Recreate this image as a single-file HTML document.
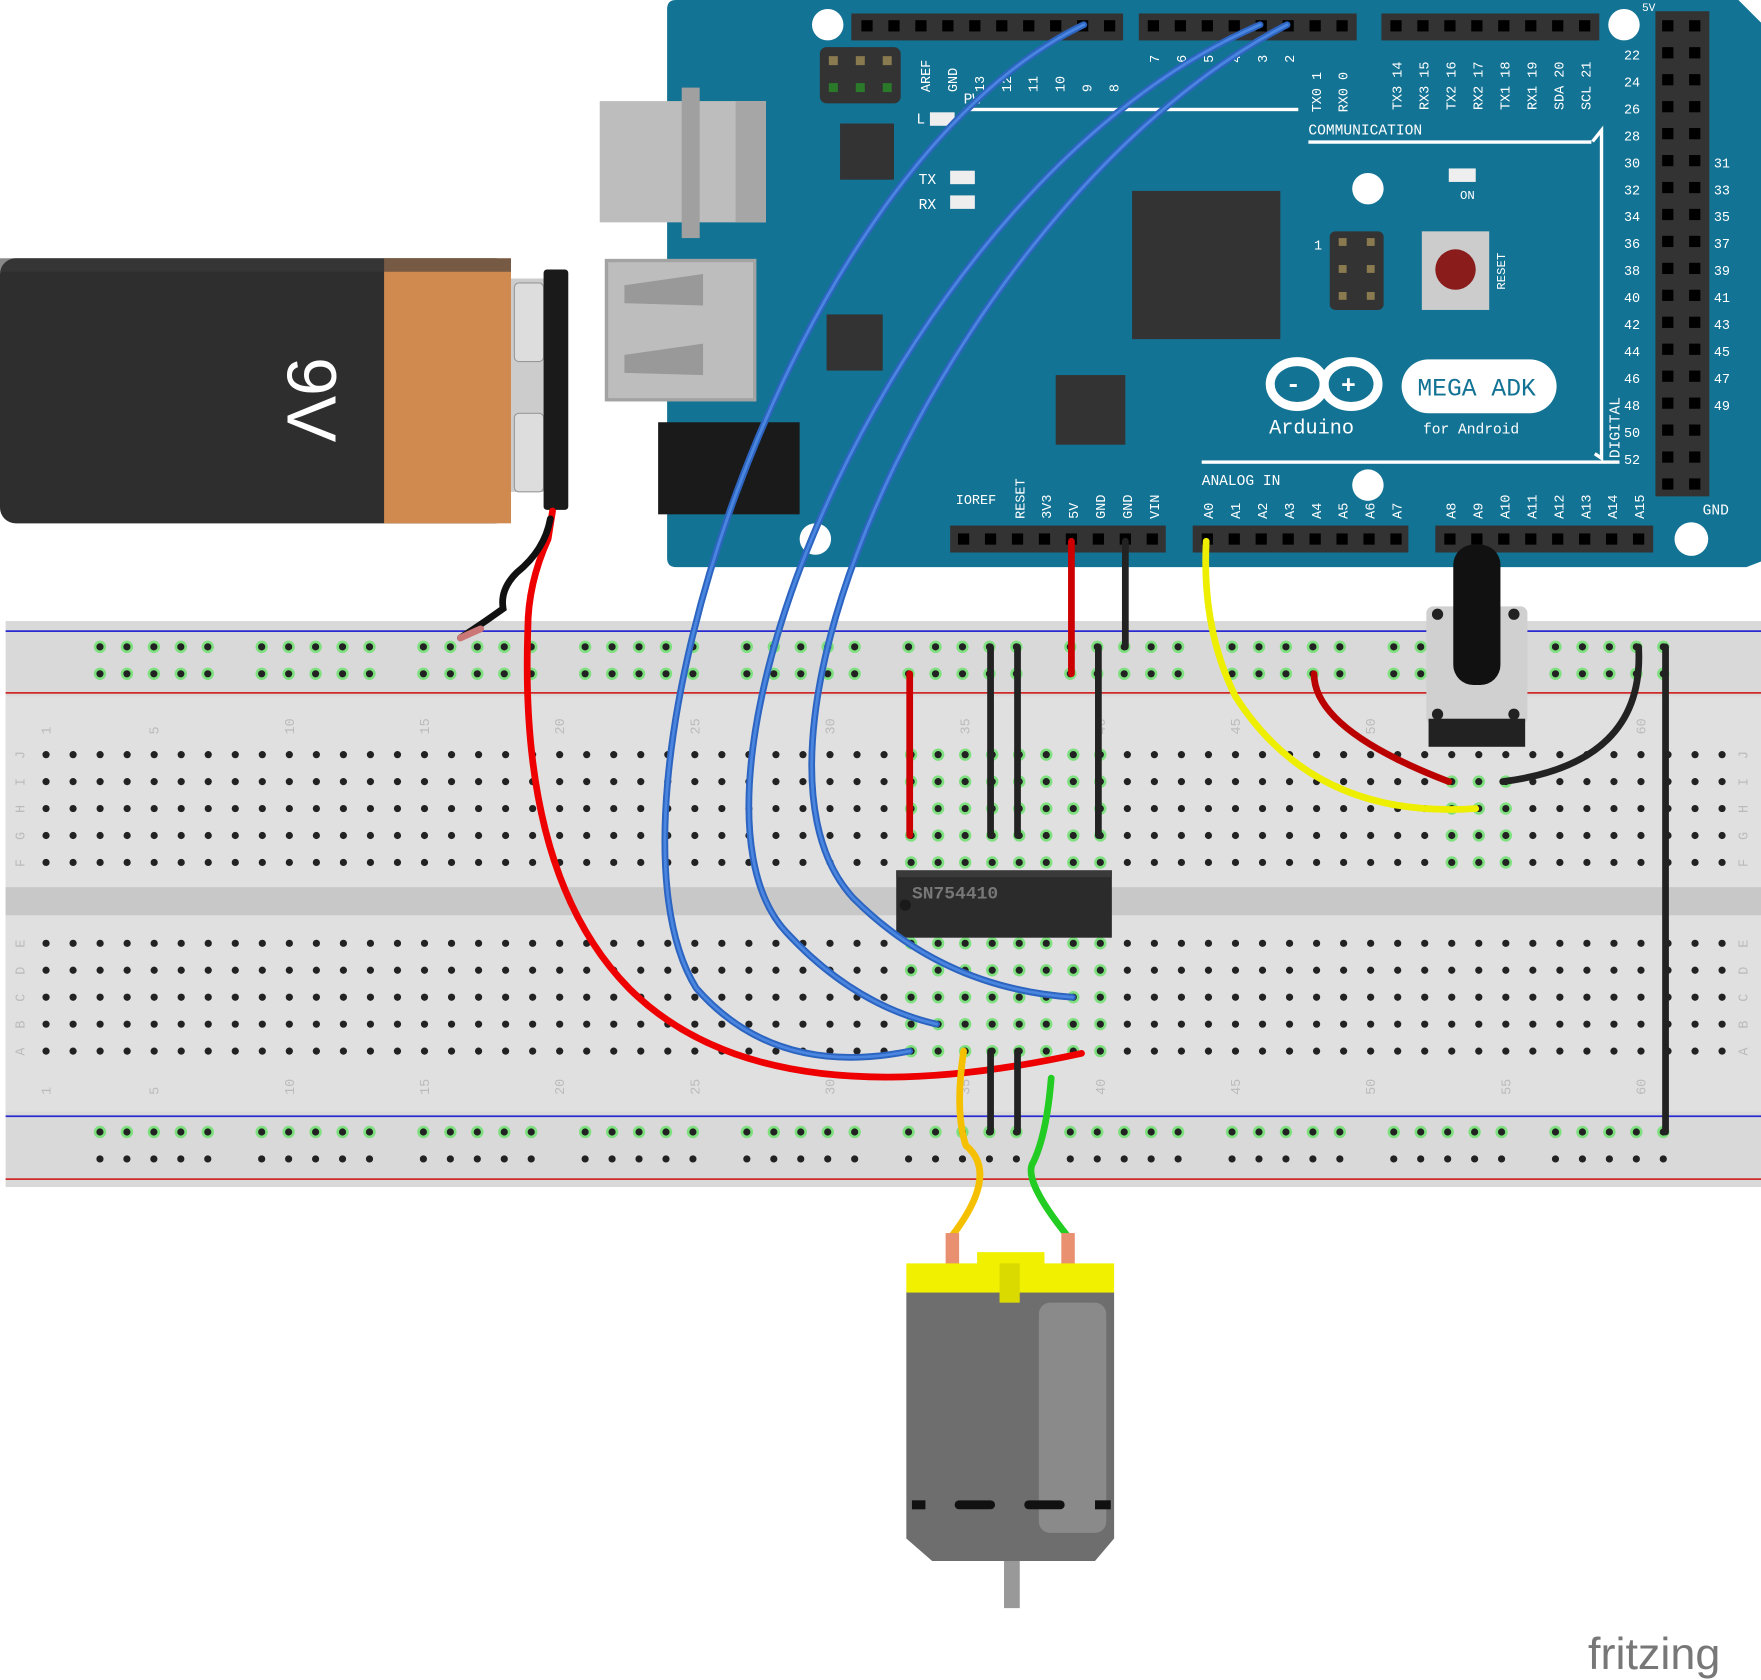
<!DOCTYPE html>
<html><head><meta charset="utf-8"><style>
html,body{margin:0;padding:0;background:#fff;}
svg{display:block;}
text{font-family:"Liberation Mono",monospace;}
</style></head><body>
<svg id="s" width="1761" height="1680" viewBox="0 0 1568 1496" preserveAspectRatio="none" xmlns="http://www.w3.org/2000/svg">
<path d="M602,0 L1548,0 L1568,20 L1568,500 L1555,505 L602,505 Q594,505 594,497 L594,8 Q594,0 602,0 Z" fill="#137394"/>
<path d="M1548,0 L1568,20 L1568,0 Z" fill="#fff"/>
<g fill="#fff">
<circle cx="737" cy="22" r="14"/><circle cx="1446" cy="22" r="14"/><circle cx="1218" cy="168" r="14"/>
<circle cx="1218" cy="432" r="14"/><circle cx="726" cy="480" r="14"/><circle cx="1506" cy="480" r="15"/>
</g>
<g fill="#333"><rect x="758" y="12" width="242" height="24"/><rect x="1014" y="12" width="194" height="24"/><rect x="1230" y="12" width="194" height="24"/>
<rect x="1474" y="10" width="48" height="432"/><rect x="846" y="468" width="192" height="24"/><rect x="1062" y="468" width="192" height="24"/><rect x="1278" y="468" width="194" height="24"/>
<rect x="730" y="42" width="72" height="50" rx="6"/><rect x="748" y="110" width="48" height="50"/><rect x="1008" y="170" width="132" height="132"/><rect x="736" y="280" width="50" height="50"/><rect x="940" y="334" width="62" height="62"/>
<rect x="1184" y="206" width="48" height="70" rx="5"/></g>
<g fill="#8a7a50"><rect x="738" y="50" width="8" height="8"/><rect x="762" y="50" width="8" height="8"/><rect x="786" y="50" width="8" height="8"/>
<rect x="1192" y="212" width="7" height="7"/><rect x="1217" y="212" width="7" height="7"/><rect x="1192" y="236" width="7" height="7"/><rect x="1217" y="236" width="7" height="7"/><rect x="1192" y="260" width="7" height="7"/><rect x="1217" y="260" width="7" height="7"/></g>
<g fill="#2a7a2a"><rect x="738" y="74" width="8" height="8"/><rect x="762" y="74" width="8" height="8"/><rect x="786" y="74" width="8" height="8"/></g>
<g id="pins" fill="#000"></g>
<g fill="#fff" font-size="13">
<text x="1165" y="120">COMMUNICATION</text><text x="1070" y="432">ANALOG IN</text><text x="851" y="449" font-size="12">IOREF</text>
<text x="816" y="110">L</text><text x="818" y="164">TX</text><text x="818" y="186">RX</text><text x="1300" y="177" font-size="11">ON</text><text x="1170" y="222" font-size="12">1</text>
<text x="858" y="92">PW</text><text x="1462" y="10" font-size="10">5V</text><text x="1516" y="458" font-size="13">GND</text>
<text x="1130" y="386" font-size="18">Arduino</text><text x="1267" y="386" font-size="13">for Android</text>
<text transform="translate(1442,408) rotate(-90)" font-size="13">DIGITAL</text>
</g>
<g fill="#fff" font-size="12" id="nums"></g>
<rect x="858" y="96" width="298" height="3" fill="#fff"/><rect x="1165" y="125" width="252" height="3" fill="#fff"/>
<rect x="1070" y="410" width="372" height="3" fill="#fff"/>
<path d="M1418,126 L1426,116 L1426,408 L1420,404" stroke="#fff" stroke-width="3" fill="none"/>
<g fill="#eee"><rect x="828" y="100" width="22" height="12"/><rect x="846" y="152" width="22" height="12"/><rect x="846" y="174" width="22" height="12"/><rect x="1290" y="150" width="24" height="12"/></g>
<g fill="none" stroke="#fff" stroke-width="8"><ellipse cx="1155" cy="342" rx="24" ry="20"/><ellipse cx="1203" cy="342" rx="24" ry="20"/></g>
<text x="1145" y="349" fill="#fff" font-size="22" font-weight="bold">-</text><text x="1194" y="350" fill="#fff" font-size="22" font-weight="bold">+</text>
<rect x="1248" y="320" width="138" height="48" rx="24" fill="#fff"/><text x="1262" y="352" fill="#137394" font-size="22">MEGA ADK</text>
<rect x="1266" y="206" width="60" height="70" fill="#ccc"/><circle cx="1296" cy="240" r="18" fill="#8a1c1c"/>
<text transform="translate(1340,258) rotate(-90)" fill="#fff" font-size="11">RESET</text>
<rect x="534" y="90" width="148" height="108" fill="#bdbdbd"/><rect x="655" y="90" width="27" height="108" fill="#a6a6a6"/><rect x="607" y="78" width="16" height="134" fill="#a0a0a0"/>
<rect x="540" y="232" width="132" height="124" fill="#bdbdbd" stroke="#a3a3a3" stroke-width="3"/>
<path d="M556,254 L626,244 L626,272 L556,270 Z M556,316 L626,306 L626,334 L556,332 Z" fill="#999"/>
<rect x="586" y="376" width="126" height="82" fill="#1a1a1a"/>
<rect x="0" y="230" width="455" height="236" rx="14" fill="#2e2e2e"/>
<rect x="342" y="230" width="113" height="236" fill="#d08a50"/>
<rect x="0" y="230" width="455" height="12" fill="#3a3a3a" opacity="0.6"/>
<rect x="455" y="248" width="30" height="190" fill="#ccc"/>
<rect x="458" y="252" width="26" height="70" rx="4" fill="#ddd" stroke="#999"/><rect x="458" y="368" width="26" height="70" rx="4" fill="#ddd" stroke="#999"/>
<rect x="484" y="240" width="22" height="214" rx="3" fill="#1a1a1a"/>
<text transform="translate(256,318) rotate(90)" fill="#fff" font-size="62" style="font-family:'Liberation Sans',sans-serif">9V</text>
<rect x="5" y="553" width="1563" height="504" fill="#d9d9d9"/>
<rect x="5" y="620" width="1563" height="370" fill="#e0e0e0"/>
<rect x="5" y="790" width="1563" height="25" fill="#c8c8c8"/>
<line x1="5" y1="562" x2="1568" y2="562" stroke="#2a2ad0" stroke-width="1.5"/>
<line x1="5" y1="617" x2="1568" y2="617" stroke="#d02a2a" stroke-width="1.5"/>
<line x1="5" y1="994" x2="1568" y2="994" stroke="#2a2ad0" stroke-width="1.5"/>
<line x1="5" y1="1050" x2="1568" y2="1050" stroke="#d02a2a" stroke-width="1.5"/>
<g id="holes"></g>
<g id="bbnum" fill="#bbb" font-size="12"></g>
<rect x="798" y="775" width="192" height="60" fill="#2b2b2b"/><rect x="798" y="775" width="192" height="6" fill="#3a3a3a"/>
<circle cx="806" cy="806" r="5" fill="#1a1a1a"/>
<text x="812" y="800" fill="#777" font-size="16" font-weight="bold">SN754410</text>
<g fill="none" stroke-linecap="round">
<path d="M492,455 L488,480 Q470,520 470,560 Q462,780 560,880 Q680,1000 963,938" stroke="#e00" stroke-width="6"/>
<path d="M490,462 Q485,490 460,510 Q445,525 448,542 Q430,555 410,568" stroke="#111" stroke-width="6"/>
<path d="M410,568 L428,560" stroke="#c77" stroke-width="6"/>
<path d="M965,22 C 700,150 520,720 620,880 Q690,960 810,936" stroke="#2c64c0" stroke-width="6"/>
<path d="M965,22 C 700,150 520,720 620,880 Q690,960 810,936" stroke="#4a86e0" stroke-width="2.5"/>
<path d="M1122,22 C 800,160 580,700 700,830 Q760,895 834,912" stroke="#2c64c0" stroke-width="6"/>
<path d="M1122,22 C 800,160 580,700 700,830 Q760,895 834,912" stroke="#4a86e0" stroke-width="2.5"/>
<path d="M1146,22 C 860,170 630,660 760,800 Q840,880 955,888" stroke="#2c64c0" stroke-width="6"/>
<path d="M1146,22 C 860,170 630,660 760,800 Q840,880 955,888" stroke="#4a86e0" stroke-width="2.5"/>
<path d="M954,482 L954,600 M810,600 L810,744" stroke="#c00" stroke-width="6"/>
<path d="M1002,482 L1002,576 M882,576 L882,744 M906,576 L906,744 M978,576 L978,744 M882,936 L882,1008 M906,936 L906,1008 M1483,576 L1483,1008" stroke="#222" stroke-width="6"/>
<path d="M1459,576 Q1465,680 1338,696" stroke="#222" stroke-width="6"/>
<path d="M1074,482 Q1070,560 1100,620 Q1170,730 1314,720" stroke="#ee0" stroke-width="6"/>
<path d="M1170,600 Q1170,650 1290,696" stroke="#b00" stroke-width="6"/>
<path d="M858,936 Q850,990 860,1020 Q890,1045 848,1100" stroke="#f5c000" stroke-width="6"/>
<path d="M936,960 Q932,1010 920,1035 Q910,1050 950,1100" stroke="#2c2" stroke-width="6"/>
</g>
<rect x="1270" y="540" width="90" height="105" rx="6" fill="#d0d0d0"/>
<rect x="1272" y="640" width="86" height="25" fill="#222"/>
<g fill="#222"><circle cx="1280" cy="547" r="5"/><circle cx="1348" cy="547" r="5"/><circle cx="1280" cy="636" r="5"/><circle cx="1348" cy="636" r="5"/></g>
<rect x="1294" y="485" width="42" height="125" rx="18" fill="#111"/>
<rect x="842" y="1098" width="12" height="30" fill="#e89070"/><rect x="945" y="1098" width="12" height="30" fill="#e89070"/>
<path d="M807,1150 L992,1150 L992,1370 L975,1390 L830,1390 L807,1370 Z" fill="#6e6e6e"/>
<rect x="925" y="1160" width="60" height="205" rx="10" fill="#8a8a8a"/>
<rect x="807" y="1125" width="185" height="26" fill="#f0f000"/>
<rect x="870" y="1115" width="60" height="12" fill="#f0f000"/><rect x="890" y="1125" width="18" height="35" fill="#dada00"/>
<g fill="#111"><rect x="812" y="1336" width="12" height="8"/><rect x="850" y="1336" width="36" height="8" rx="4"/><rect x="912" y="1336" width="36" height="8" rx="4"/><rect x="975" y="1336" width="14" height="8"/></g>
<rect x="894" y="1390" width="14" height="42" fill="#999"/>
<text x="1414" y="1486" fill="#777" font-size="40" style="font-family:'Liberation Sans',sans-serif">fritzing</text>
</svg>
<script>
var NS="http://www.w3.org/2000/svg";
function el(p,t,a){var e=document.createElementNS(NS,t);for(var k in a)e.setAttribute(k,a[k]);p.appendChild(e);return e;}
var H=document.getElementById("holes"),P=document.getElementById("pins"),N=document.getElementById("bbnum");
function cx(i){return 41+(i-1)*24.07;}
var rowsTop=[672,696,720,744,768],rowsBot=[840,864,888,912,936];
var greenTop=[33,34,35,36,37,38,39,40,53,54,55],greenBot=[33,34,35,36,37,38,39,40];
for(var i=1;i<=63;i++){var x=cx(i);
 rowsTop.forEach(function(y){var g=greenTop.indexOf(i)>=0; if(g&&(i>=53)&&y<696)g=false; if(g)el(H,"circle",{cx:x,cy:y,r:5.5,fill:"#7ee07e"});el(H,"circle",{cx:x,cy:y,r:3.2,fill:"#222"});});
 rowsBot.forEach(function(y){var g=greenBot.indexOf(i)>=0; if(g)el(H,"circle",{cx:x,cy:y,r:5.5,fill:"#7ee07e"});el(H,"circle",{cx:x,cy:y,r:3.2,fill:"#222"});});
 if(i==1||i%5==0){var t=el(N,"text",{transform:"translate("+(x+4)+",654) rotate(-90)"});t.textContent=i;var t2=el(N,"text",{transform:"translate("+(x+4)+",975) rotate(-90)"});t2.textContent=i;}
}
var rg=[89,233,377,521,665,809,953,1097,1241,1385];
rg.forEach(function(s){for(var k=0;k<5;k++){var x=s+k*24;[576,600,1008,1032].forEach(function(y){var g=(y!=1032);el(H,"circle",{cx:x,cy:y,r:5.5,fill:g?"#7ee07e":"#d9d9d9"});el(H,"circle",{cx:x,cy:y,r:3.2,fill:"#222"});});}});
"JIHGF".split("").forEach(function(c,j){[18,1552].forEach(function(x){var t=el(N,"text",{transform:"translate("+(x+4)+","+(rowsTop[j]+4)+") rotate(-90)"});t.textContent=c;});});
"EDCBA".split("").forEach(function(c,j){[18,1552].forEach(function(x){var t=el(N,"text",{transform:"translate("+(x+4)+","+(rowsBot[j]+4)+") rotate(-90)"});t.textContent=c;});});
function pinrow(x0,n,y){for(var k=0;k<n;k++)el(P,"rect",{x:x0+k*24-5,y:y-5,width:10,height:10,fill:"#000"});}
pinrow(772,10,23);pinrow(1027,8,23);pinrow(1243,8,23);pinrow(858,8,480);pinrow(1075,8,480);pinrow(1291,8,480);
for(var r=0;r<18;r++){pinrow(1485,2,23+r*24);}
var Nn=document.getElementById("nums");
var lt=["AREF","GND","13","12","11","10","9","8"];lt.forEach(function(s,k){var t=el(Nn,"text",{transform:"translate("+(828+k*24)+",82) rotate(-90)"});t.textContent=s;});
["7","6","5","4","3","2","TX0 1","RX0 0"].forEach(function(s,k){var t=el(Nn,"text",{transform:"translate("+(1032+k*24)+","+(k<6?56:100)+") rotate(-90)"});t.textContent=s;});
["TX3 14","RX3 15","TX2 16","RX2 17","TX1 18","RX1 19","SDA 20","SCL 21"].forEach(function(s,k){var t=el(Nn,"text",{transform:"translate("+(1248+k*24)+",98) rotate(-90)"});t.textContent=s;});
["RESET","3V3","5V","GND","GND","VIN"].forEach(function(s,k){var t=el(Nn,"text",{transform:"translate("+(912+k*24)+",462) rotate(-90)"});t.textContent=s;});
["A0","A1","A2","A3","A4","A5","A6","A7"].forEach(function(s,k){var t=el(Nn,"text",{transform:"translate("+(1080+k*24)+",462) rotate(-90)"});t.textContent=s;});
["A8","A9","A10","A11","A12","A13","A14","A15"].forEach(function(s,k){var t=el(Nn,"text",{transform:"translate("+(1296+k*24)+",462) rotate(-90)"});t.textContent=s;});
for(var r=0;r<16;r++){var t=el(Nn,"text",{x:1446,y:53+r*24});t.textContent=22+2*r;if(r>=4&&r<14){var u=el(Nn,"text",{x:1526,y:149+(r-4)*24});u.textContent=31+2*(r-4);}}
</script>
</body></html>
